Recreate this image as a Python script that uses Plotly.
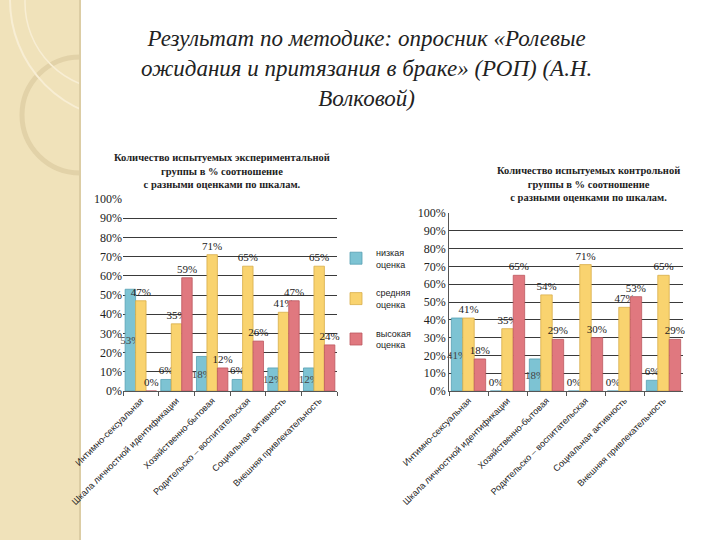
import plotly.graph_objects as go

categories = [
    "Интимно-сексуальная",
    "Шкала личностной идентификации",
    "Хозяйственно-бытовая",
    "Родительско – воспитательская",
    "Социальная активность",
    "Внешняя привлекательность",
]
series_names = ["низкая<br>оценка", "средняя<br>оценка", "высокая<br>оценка"]

exp_low = [53, 6, 18, 6, 12, 12]
exp_mid = [47, 35, 71, 65, 41, 65]
exp_high = [0, 59, 12, 26, 47, 24]

ctl_low = [41, 0, 18, 0, 0, 6]
ctl_mid = [41, 35, 54, 71, 47, 65]
ctl_high = [18, 65, 29, 30, 53, 29]

y_ticks = [0, 10, 20, 30, 40, 50, 60, 70, 80, 90, 100]

main_title = "Результат по методике: опросник «Ролевые<br>ожидания и притязания в браке» (РОП) (А.Н.<br>Волковой)"
title_exp = "Количество испытуемых экспериментальной<br>группы в % соотношение<br>с разными оценками по шкалам."
title_ctl = "Количество испытуемых контрольной<br>группы в % соотношение<br>с разными оценками по шкалам."

fills = ["#7DC3D3", "#F9D36F", "#E0787F"]
edges = ["#56A0B2", "#D8AD4A", "#BC5860"]

SERIF = "Liberation Serif"
SANS = "Liberation Sans"

W, H = 720, 540
def px(x):
    return x / W
def py(y):
    return 1 - y / H

fig = go.Figure()

def add_group(values_list, xa, ya, show):
    for i, vals in enumerate(values_list):
        if i == 0:
            pos = ["inside" if v >= 10 else "outside" for v in vals]
        else:
            pos = ["outside"] * len(vals)
        fig.add_trace(go.Bar(
            x=categories, y=vals, name=series_names[i],
            text=[f"{v}%" for v in vals], textposition=pos, textangle=0,
            insidetextanchor="middle", constraintext="none",
            textfont=dict(family=SERIF, size=11),
            cliponaxis=False,
            marker=dict(color=fills[i], line=dict(color=edges[i], width=0.8)),
            xaxis=xa, yaxis=ya, showlegend=show, legendgroup=f"g{i}",
            hoverinfo="skip",
        ))

add_group([exp_low, exp_mid, exp_high], "x", "y", True)
add_group([ctl_low, ctl_mid, ctl_high], "x2", "y2", False)

common_y = dict(range=[0, 100], tickvals=y_ticks, ticktext=[f"{v}%" for v in y_ticks],
                showgrid=True, gridcolor="#3a3a3a", gridwidth=0.8, zeroline=False,
                tickfont=dict(family=SERIF, size=12), ticks="", fixedrange=True)
common_x = dict(type="category", tickangle=-45, tickfont=dict(family=SANS, size=9),
                showline=True, linecolor="#555555", linewidth=0.8, ticks="outside",
                tickson="boundaries", ticklen=4, tickcolor="#555555", automargin=False)

fig.update_layout(
    width=W, height=H,
    font=dict(family=SERIF, color="#222222"),
    margin=dict(l=0, r=0, t=0, b=0),
    paper_bgcolor="white", plot_bgcolor="rgba(0,0,0,0)",
    barmode="group", bargap=0.12, bargroupgap=0.0,
    xaxis=dict(domain=[px(123), px(337)], anchor="y", **common_x),
    yaxis=dict(domain=[py(391), py(199)], anchor="x", showline=False, automargin=False, **common_y),
    xaxis2=dict(domain=[px(449), px(683)], anchor="y2", **common_x),
    yaxis2=dict(domain=[py(391), py(213)], anchor="x2", showline=True, linecolor="#555555",
                linewidth=0.8, automargin=False, **common_y),
    legend=dict(x=px(336), y=py(240), xanchor="left", yanchor="top",
                font=dict(family=SANS, size=9),
                bgcolor="rgba(0,0,0,0)", traceorder="grouped", tracegroupgap=14,
                itemwidth=30),
    showlegend=True,
)

# Decorative left strip
shapes = [
    dict(type="rect", xref="paper", yref="paper", x0=0, x1=px(80), y0=0, y1=1,
         fillcolor="#F0E2BA", line=dict(width=0), layer="below"),
    dict(type="circle", xref="paper", yref="paper", x0=px(22), x1=px(138), y0=py(173), y1=py(57),
         fillcolor="rgba(0,0,0,0)", line=dict(color="#E2D2A8", width=5), layer="below"),
    dict(type="circle", xref="paper", yref="paper", x0=px(10), x1=px(250), y0=py(120), y1=py(-120),
         fillcolor="rgba(0,0,0,0)", line=dict(color="#F8EED4", width=2), layer="below"),
    dict(type="circle", xref="paper", yref="paper", x0=px(25), x1=px(200), y0=py(90), y1=py(-85),
         fillcolor="rgba(0,0,0,0)", line=dict(color="#F8EED4", width=1.5), layer="below"),
    dict(type="rect", xref="paper", yref="paper", x0=px(80), x1=1, y0=0, y1=1,
         fillcolor="white", line=dict(width=0), layer="below"),
    dict(type="line", xref="paper", yref="paper", x0=px(80), x1=px(80), y0=0, y1=1,
         line=dict(color="#DCCDA4", width=2), layer="below"),
]
fig.update_layout(shapes=shapes)

fig.add_annotation(text="<i>" + main_title + "</i>", xref="paper", yref="paper", x=px(366), y=py(24),
                   xanchor="center", yanchor="top", showarrow=False, align="center",
                   font=dict(family=SERIF, size=23))
fig.add_annotation(text="<b>" + title_exp + "</b>", xref="paper", yref="paper", x=px(222), y=py(150),
                   xanchor="center", yanchor="top", showarrow=False, align="center",
                   font=dict(family=SERIF, size=10.5))
fig.add_annotation(text="<b>" + title_ctl + "</b>", xref="paper", yref="paper", x=px(588), y=py(163),
                   xanchor="center", yanchor="top", showarrow=False, align="center",
                   font=dict(family=SERIF, size=10.5))

post = (
    "document.body.style.margin='0';"
    "var gd = document.getElementById('{plot_id}');"
    "setTimeout(function(){ Plotly.newPlot(gd, gd.data, gd.layout, {displayModeBar: false}); }, 60);"
)
fig.write_html("out.html", config={"displayModeBar": False}, post_script=post)
